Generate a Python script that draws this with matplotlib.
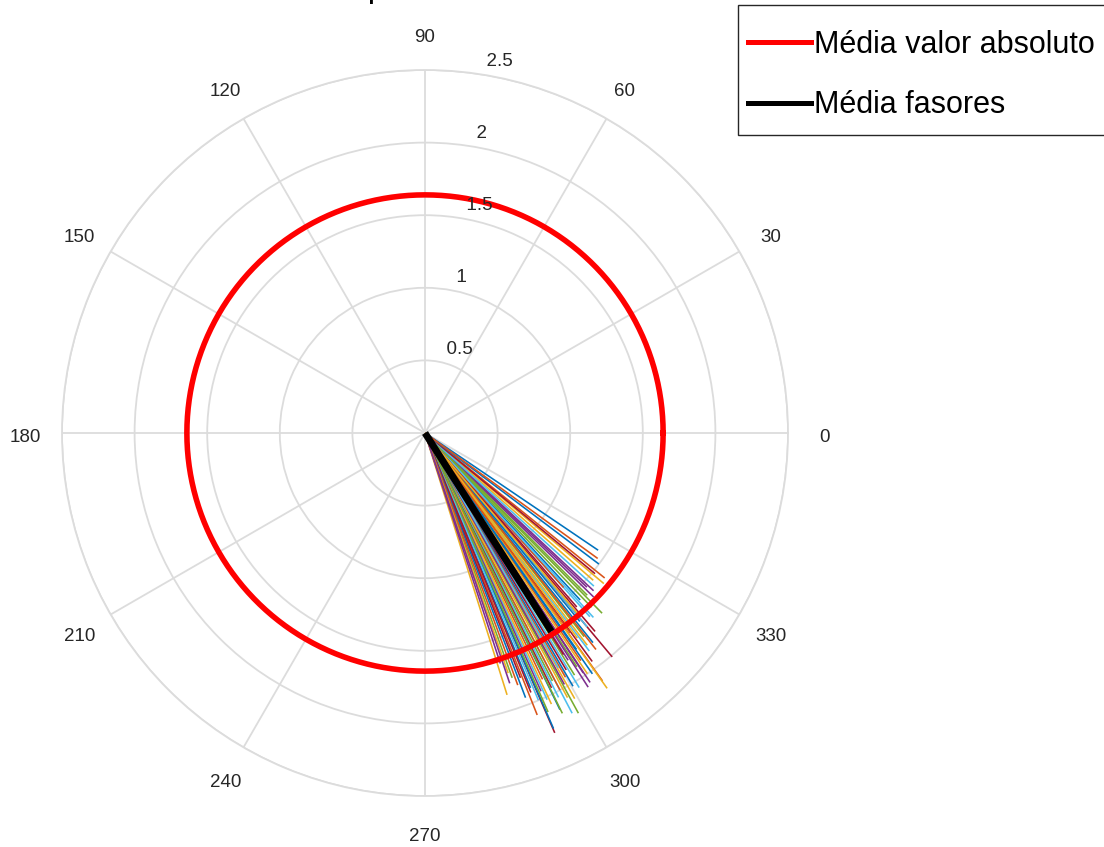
import numpy as np
import matplotlib
matplotlib.use("Agg")
import matplotlib.pyplot as plt
from matplotlib.lines import Line2D
from matplotlib.patches import Rectangle
from matplotlib.transforms import offset_copy

plt.rcParams['font.family'] = ['Liberation Sans', 'DejaVu Sans']

# Phasor angles (degrees) and magnitudes
phasor_angles_deg = [
    -34.1, -38.9, -40.1, -43.1, -45.5, -48.1, -50.1, -51.3, -54.4, -54.5,
    -56.5, -61.3, -62.3, -66.6, -66.5, -68.3, -72.6, -71.9, -70.4, -65.4,
    -68.7, -67.5, -62.3, -61.7, -56.6, -57.0, -50.1, -48.9, -47.1, -48.1,
    -41.2, -43.6, -52.0, -53.0, -53.8, -55.0, -55.6, -56.0, -57.8, -58.3,
    -58.8, -59.2, -59.7, -60.1, -60.6, -61.0, -62.8, -63.2, -63.6, -64.0,
    -64.5, -65.0, -65.8, -66.2, -67.0, -67.8, -69.2, -69.8, -70.9, -71.3,
    -46.3, -47.6, -49.4, -50.6, -51.7, -52.6, -44.2, -45.0, -42.2, -39.6,
    -37.0, -36.0, -53.4, -57.3, -63.9, -60.4, -58.0, -55.2, -54.0, -49.8,
]
phasor_magnitudes = [
    1.44, 1.59, 1.61, 1.59, 1.74, 1.70, 2.01, 1.85, 2.10, 2.16,
    2.06, 2.20, 2.18, 2.25, 2.22, 2.09, 1.89, 1.67, 1.79, 2.02,
    1.81, 1.90, 2.00, 2.07, 1.98, 1.92, 1.74, 1.59, 1.57, 1.43,
    1.54, 1.54, 1.78, 1.88, 1.95, 1.82, 1.90, 2.00, 1.85, 1.96,
    2.05, 1.90, 2.02, 1.94, 2.10, 1.98, 1.92, 2.04, 1.96, 2.12,
    1.88, 2.06, 1.95, 2.10, 2.00, 1.93, 1.95, 1.85, 1.75, 1.82,
    1.66, 1.72, 1.80, 1.68, 1.90, 1.84, 1.62, 1.58, 1.57, 1.52,
    1.50, 1.47, 1.76, 2.08, 2.15, 1.86, 1.80, 2.02, 1.70, 1.64,
]

# Summary values
mean_abs_value = 1.64
mean_phasor_mag = 1.62
mean_phasor_angle_deg = -57.5

radial_ticks = [0.5, 1.0, 1.5, 2.0, 2.5]
radial_tick_labels = ['0.5', '1', '1.5', '2', '2.5']
angle_ticks_deg = list(range(0, 360, 30))
legend_labels = ['Média valor absoluto', 'Média fasores']
title_text = 'Dispersão dos fasores'

line_colors = ['#0072BD', '#D95319', '#EDB120', '#7E2F8E',
               '#77AC30', '#4DBEEE', '#A2142F']

W, H = 1104, 847
fig = plt.figure(figsize=(W / 100, H / 100), dpi=100)
cx, cy, rpx = 425, 433, 363
ax = fig.add_axes([(cx - rpx) / W, (H - cy - rpx) / H, 2 * rpx / W, 2 * rpx / H],
                  projection='polar')

rmax = radial_ticks[-1]
ax.set_ylim(0, rmax)
grid_color = '#dcdcdc'
ax.set_thetagrids(angle_ticks_deg, labels=[''] * len(angle_ticks_deg))
ax.set_rgrids(radial_ticks, labels=[''] * len(radial_ticks))
ax.grid(True, color=grid_color, linewidth=1.3)
ax.spines['polar'].set_color(grid_color)
ax.spines['polar'].set_linewidth(1.3)
ax.tick_params(length=0)

# Individual phasors
for i, (a, m) in enumerate(zip(phasor_angles_deg, phasor_magnitudes)):
    th = np.deg2rad(a)
    ax.plot([0, th], [0, m], color=line_colors[i % len(line_colors)],
            linewidth=1.15, solid_capstyle='butt')

# Mean absolute value circle
circ_t = np.linspace(0, 2 * np.pi, 721)
ax.plot(circ_t, np.full_like(circ_t, mean_abs_value), color='#ff0000',
        linewidth=4.0)

# Mean phasor
ax.plot([0, np.deg2rad(mean_phasor_angle_deg)], [0, mean_phasor_mag],
        color='black', linewidth=5.0, solid_capstyle='butt')

# Angle labels
lab_tr = offset_copy(ax.transData, fig=fig, x=0, y=-4, units='dots')
for a in angle_ticks_deg:
    ax.text(np.deg2rad(a), rmax * 1.1, str(a), ha='center', va='center',
            fontsize=13.5, color='#262626', clip_on=False, transform=lab_tr)

# Radial labels along 82 degrees
for r, lab in zip(radial_ticks, radial_tick_labels):
    ax.text(np.deg2rad(82), r + 0.025, '  ' + lab, ha='left', va='bottom',
            fontsize=13.5, color='#262626', clip_on=False)

# Title
fig.text(336 / W, 1.0, title_text, ha='left', va='baseline',
         fontsize=15, fontweight='bold', color='black')

# Legend box
fig.add_artist(Rectangle((738 / W, 1 - 135 / H), (1112 - 738) / W, 130 / H,
                         transform=fig.transFigure, facecolor='white',
                         edgecolor='#262626', linewidth=1.0, zorder=4))

handles = [Line2D([], [], color='#ff0000', linewidth=3.6),
           Line2D([], [], color='black', linewidth=3.6)]
leg = fig.legend(handles, legend_labels, loc='upper left',
                 bbox_to_anchor=(748 / W, 1 - 30 / H), borderaxespad=0,
                 fontsize=22, frameon=False,
                 handlelength=2.07, handletextpad=0.1,
                 labelspacing=0.99, borderpad=0.0)
leg.set_zorder(5)

fig.savefig('out.png', dpi=100)
